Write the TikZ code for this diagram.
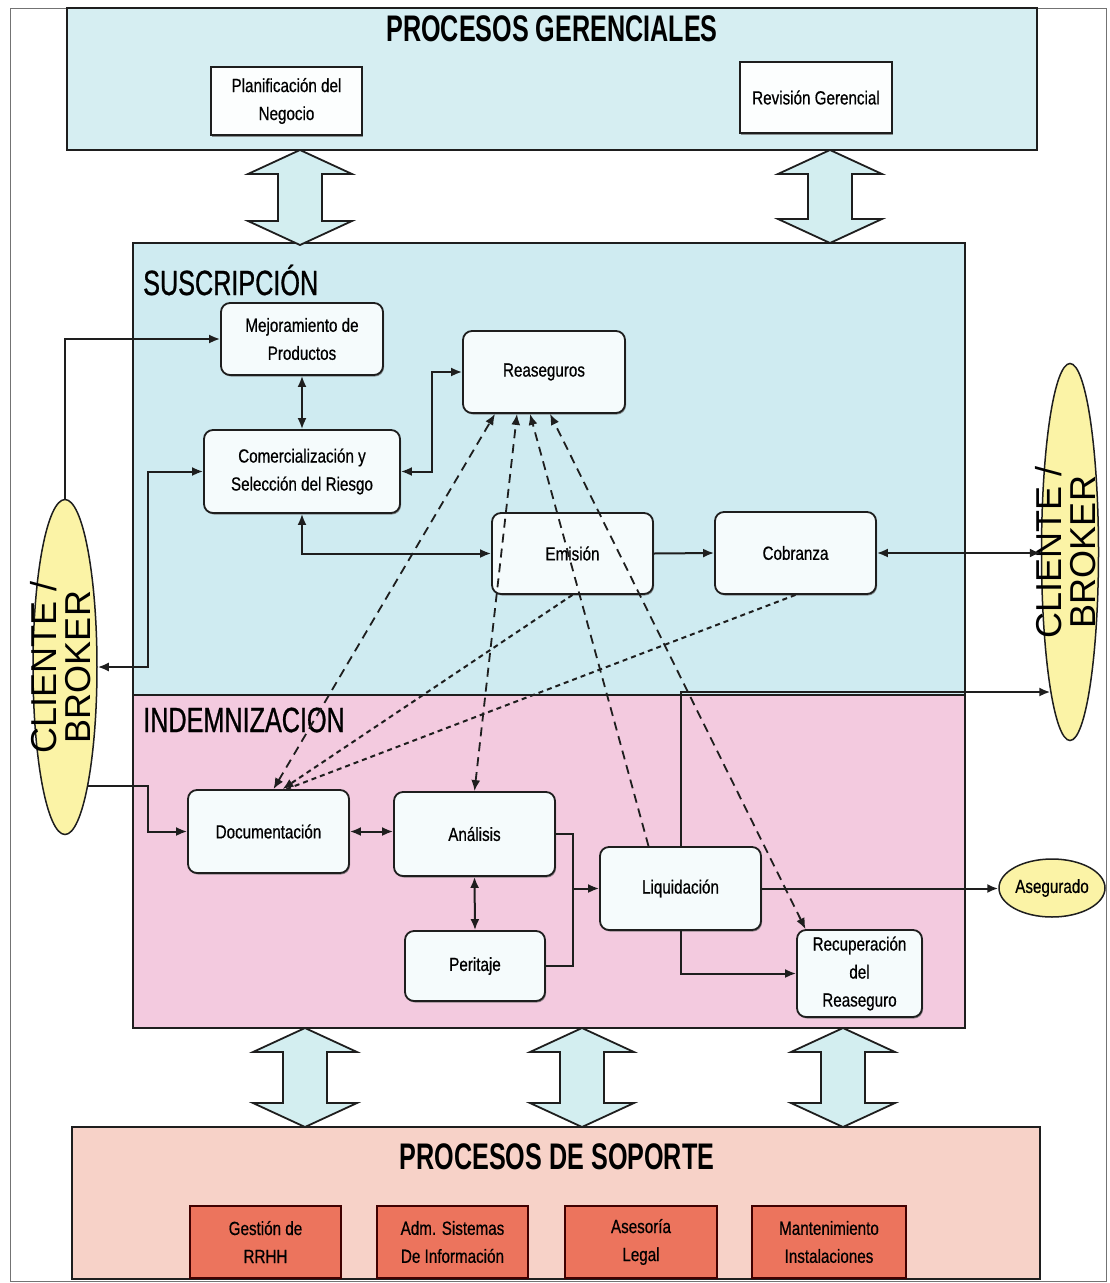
\documentclass[tikz,border=0pt]{standalone}
\usepackage{fontspec}
\usepackage{graphicx}
\setmainfont{Liberation Sans}
\newfontfamily\narrowfont[FakeStretch=0.8, FakeBold=0.6]{Liberation Sans}
\newfontfamily\headfont[FakeStretch=0.68]{Liberation Sans}
\newfontfamily\sectfont[FakeStretch=0.72, FakeBold=0.8]{Liberation Sans}
\usetikzlibrary{shapes.geometric, arrows.meta, shadows, calc}

\definecolor{gerfill}{HTML}{D6EEF2}
\definecolor{susfill}{HTML}{CFEBF1}
\definecolor{indfill}{HTML}{F3CADF}
\definecolor{sopfill}{HTML}{F7D2C8}
\definecolor{sopbox}{HTML}{EC745D}
\definecolor{cliefill}{HTML}{FBF3A6}
\definecolor{procfill}{HTML}{F5FBFC}
\definecolor{arrowfill}{HTML}{D3EEF0}
\definecolor{ink}{HTML}{1E1E1E}

% hollow two-headed block arrow: centre x, top y, bottom y
\newcommand\blockarrow[3]{%
  \filldraw[bigarrow] (#1,#2) -- ++(52,24) -- ++(-30,0) -- (#1+22,#3-24)
    -- ++(30,0) -- (#1,#3) -- ++(-52,-24) -- ++(30,0) -- (#1-22,#2+24)
    -- ++(-30,0) -- cycle;}

\newcommand\clientlabel{\rotatebox{90}{\fontsize{36}{31}\selectfont
  \begin{tabular}{@{}c@{}}CLIENTE /\\BROKER\end{tabular}}}

\begin{document}
\begin{tikzpicture}[x=1pt, y=-1pt,
  >={Latex[length=11pt,width=9pt]},
  area/.style={draw=ink, line width=1.5pt},
  bigarrow/.style={fill=arrowfill, draw=ink, line width=1.8pt, line join=miter},
  proc/.style={draw=ink, line width=1.8pt, rounded corners=9pt, fill=procfill,
    align=center, inner sep=0pt, font=\narrowfont\fontsize{19}{28}\selectfont,
    drop shadow={shadow xshift=1pt, shadow yshift=-1.5pt, fill=black!60, opacity=0.7}},
  mgmt/.style={draw=ink, line width=1.8pt, fill=white!92!gerfill,
    align=center, inner sep=0pt, font=\narrowfont\fontsize{19}{28}\selectfont,
    drop shadow={shadow xshift=1pt, shadow yshift=-1.5pt, fill=black!60, opacity=0.7}},
  supp/.style={draw=black!75!red, line width=1.5pt, fill=sopbox,
    align=center, inner sep=0pt, font=\narrowfont\fontsize{19}{28}\selectfont,
    minimum height=72pt},
  actor/.style={ellipse, draw=ink, line width=1.5pt, fill=cliefill, inner sep=0pt},
  flow/.style={draw=ink, line width=2pt},
  link/.style={draw=ink, line width=1.8pt, dash pattern=on 9pt off 6pt},
  dotlink/.style={draw=ink, line width=2pt, dash pattern=on 5pt off 4pt},
  title/.style={font=\headfont\bfseries\fontsize{37}{37}\selectfont, inner sep=0pt},
  sect/.style={font=\sectfont\fontsize{35}{35}\selectfont, anchor=west, inner sep=0pt}
]
\useasboundingbox (0,0) rectangle (1110,1283);
\fill[white] (0,0) rectangle (1110,1283);
\draw[black!55, line width=1pt] (10,8) rectangle (1106,1281);

% process areas
\draw[area, fill=gerfill] (67,8) rectangle (1037,150);
\draw[area, fill=susfill] (133,243) rectangle (965,695);
\draw[area, fill=indfill] (133,695) rectangle (965,1028);
\draw[area, fill=sopfill] (72,1127) rectangle (1040,1279);

% links between the levels
\blockarrow{300}{150}{245}
\blockarrow{830}{150}{243}
\blockarrow{305}{1028}{1127}
\blockarrow{582}{1028}{1127}
\blockarrow{843}{1028}{1127}

% area titles
\node[title] (tger) at (552,29) {PROCESOS GERENCIALES};
\node[sect] (tsus) at (143,280) {SUSCRIPCIÓN};
\node[sect] (tind) at (143,720) {INDEMNIZACION};
\node[title] (tsop) at (557,1157) {PROCESOS DE SOPORTE};

% management processes
\node[mgmt, minimum width=151pt, minimum height=68pt] (plan) at (286.5,101) {Planificación del\\Negocio};
\node[mgmt, minimum width=152pt, minimum height=71pt] (rev) at (816,97.5) {Revisión Gerencial};

% underwriting
\node[proc, minimum width=162pt, minimum height=72pt] (mej) at (302,339) {Mejoramiento de\\Productos};
\node[proc, minimum width=196pt, minimum height=83pt] (com) at (302,471.5) {Comercialización y\\Selección del Riesgo};
\node[proc, minimum width=162pt, minimum height=82pt] (rea) at (544,372) {Reaseguros};
\node[proc, minimum width=161pt, minimum height=81pt] (emi) at (572.5,553.5) {Emisión};
\node[proc, minimum width=161pt, minimum height=82pt] (cob) at (795.5,553) {Cobranza};

% claims
\node[proc, minimum width=161pt, minimum height=83pt] (doc) at (268.5,831.5) {Documentación};
\node[proc, minimum width=161pt, minimum height=84pt] (ana) at (474.5,834) {Análisis};
\node[proc, minimum width=140pt, minimum height=70pt] (per) at (475,966) {Peritaje};
\node[proc, minimum width=161pt, minimum height=83pt] (liq) at (680.5,888.5) {Liquidación};
\node[proc, minimum width=125pt, minimum height=87pt] (rec) at (859.5,973.5) {Recuperación\\del\\Reaseguro};

% support processes
\node[supp, minimum width=151pt] (rrhh) at (265.5,1242) {Gestión de\\RRHH};
\node[supp, minimum width=151pt] (sis) at (452.5,1242) {Adm. Sistemas\\De Información};
\node[supp, minimum width=152pt] (leg) at (641,1242) {Asesoría\\Legal};
\node[supp, minimum width=154pt] (man) at (829,1242) {Mantenimiento\\Instalaciones};

% external parties
\node[actor, minimum width=64pt, minimum height=335pt, label={center:\clientlabel}] (cl) at (65,667) {};
\node[actor, minimum width=57pt, minimum height=377pt, label={center:\clientlabel}] (cr) at (1070,552) {};
\node[actor, minimum width=106pt, minimum height=58pt, font=\narrowfont\fontsize{19}{22}\selectfont] (ase) at (1052,888) {Asegurado};

% bend columns
\coordinate (lbend) at (148,0);
\coordinate (cbend) at (432,0);
\coordinate (jbend) at (573,0);

% solid flows
\draw[flow,->] (cl.north) |- (mej.west);
\draw[flow,<->] (mej.south) -- (com.north);
\draw[flow,<->] (com.west) -| (lbend |- cl.east) -- (cl.east);
\draw[flow,<->] (com.east) -| (cbend |- rea.west) -- (rea.west);
\draw[flow,<->] (com.south) |- (emi.west);
\draw[flow,->] (emi.east) -- (cob.west);
\draw[flow,<->] (cob.east) -- (cob.east -| cr.west);
\draw[flow,->] (cl.-79) -| (lbend |- doc.west) -- (doc.west);
\draw[flow,<->] (doc.east) -- (doc.east -| ana.west);
\draw[flow,<->] (ana.south) -- (per.north);
\draw[flow] (ana.east) -| (jbend |- liq.west);
\draw[flow] (per.east) -| (jbend |- liq.west);
\draw[flow,->] (jbend |- liq.west) -- (liq.west);
\draw[flow,->] (liq.north) |- (cr.-98);
\draw[flow,->] (liq.south) |- (rec.west);
\draw[flow,->] (liq.east) -- (liq.east -| ase.west);

% dashed information links
\draw[link,<->] ([xshift=5pt]doc.north) -- ([xshift=-49pt]rea.south);
\draw[link,<->] (ana.north) -- ([xshift=-27pt]rea.south);
\draw[link,->] ([xshift=-32pt]liq.north) -- ([xshift=-14pt]rea.south);
\draw[link,<->] ([xshift=-54pt]rec.north) -- ([xshift=6pt]rea.south);
\draw[dotlink,->] (emi.south) -- ([xshift=14pt]doc.north);
\draw[dotlink] (cob.south) -- ([xshift=18pt]doc.north);
\end{tikzpicture}
\end{document}
